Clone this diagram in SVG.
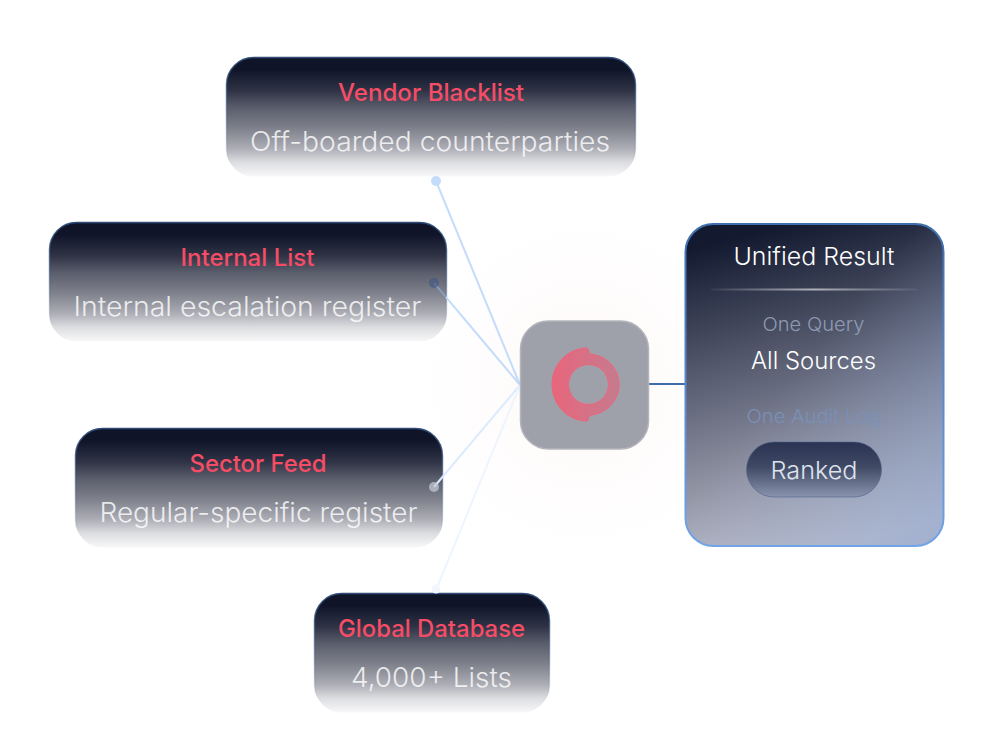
<svg xmlns="http://www.w3.org/2000/svg" width="993" height="754" viewBox="0 0 993 754">
<style>
text{font-family:"Inter","Liberation Sans",sans-serif;text-anchor:middle}
.card{fill:url(#cardFill);stroke:url(#cardStroke);stroke-width:1.5}
.title{font-size:24px;font-weight:500;fill:#f64c66}
.sub{font-size:27px;font-weight:300;fill:#fff;fill-opacity:.82}
.link{fill:none;stroke-width:2}
</style>
<defs>
<linearGradient id="cardFill" x1="0" y1="0" x2="0" y2="1">
<stop offset=".1" stop-color="#0f1429"/>
<stop offset=".28" stop-color="#2f3345"/>
<stop offset=".42" stop-color="#5a5d6b"/>
<stop offset=".6" stop-color="#80828d"/>
<stop offset=".76" stop-color="#abacb4"/>
<stop offset=".88" stop-color="#dcdde0"/>
<stop offset="1" stop-color="#f8f8f9"/>
</linearGradient>
<linearGradient id="cardStroke" x1="0" y1="0" x2="0" y2="1">
<stop offset="0" stop-color="#2f4d78"/>
<stop offset=".5" stop-color="#2f4d78" stop-opacity=".45"/>
<stop offset=".9" stop-color="#2f4d78" stop-opacity="0"/>
</linearGradient>
<linearGradient id="resultFill" x1=".4" y1="0" x2=".6" y2="1">
<stop offset="0" stop-color="#131a30"/>
<stop offset=".5" stop-color="#6a6e81"/>
<stop offset="1" stop-color="#c2c2cd"/>
</linearGradient>
<linearGradient id="resultTint" gradientUnits="userSpaceOnUse" x1="770" y1="400" x2="943" y2="546">
<stop offset="0" stop-color="#8fa6d0" stop-opacity="0"/>
<stop offset="1" stop-color="#8fa6d0" stop-opacity=".65"/>
</linearGradient>
<linearGradient id="resultStroke" x1="0" y1="0" x2="0" y2="1">
<stop offset="0" stop-color="#3d6ead"/>
<stop offset="1" stop-color="#70a4e6"/>
</linearGradient>
<linearGradient id="divider" x1="0" y1="0" x2="1" y2="0">
<stop offset="0" stop-color="#fff" stop-opacity=".05"/>
<stop offset=".5" stop-color="#fff" stop-opacity=".6"/>
<stop offset="1" stop-color="#fff" stop-opacity=".05"/>
</linearGradient>
<linearGradient id="pill" x1="0" y1="0" x2="0" y2="1">
<stop offset="0" stop-color="#2a3352"/>
<stop offset=".45" stop-color="#3f4964"/>
<stop offset="1" stop-color="#8a93ad"/>
</linearGradient>
<linearGradient id="ringFill" x1="0" y1="0" x2="1" y2="0">
<stop offset="0" stop-color="#e8667c"/>
<stop offset="1" stop-color="#c67b8e"/>
</linearGradient>
<radialGradient id="glow">
<stop offset="0" stop-color="#fdf0f0" stop-opacity=".45"/>
<stop offset="1" stop-color="#fdf0f0" stop-opacity="0"/>
</radialGradient>
</defs>
<rect width="993" height="754" fill="#fff"/>
<circle cx="585" cy="385" r="165" fill="url(#glow)"/>

<g id="node-vendor">
<rect class="card" x="226.500" y="57.500" width="409" height="119" rx="27"/>
<text class="title" x="431" y="100.500" textLength="186" lengthAdjust="spacingAndGlyphs">Vendor Blacklist</text>
<text class="sub" x="430" y="151" textLength="360" lengthAdjust="spacingAndGlyphs">Off-boarded counterparties</text>
</g>
<g id="node-internal">
<rect class="card" x="49.500" y="222.500" width="397" height="119" rx="27"/>
<text class="title" x="247.500" y="265.500" textLength="134" lengthAdjust="spacingAndGlyphs">Internal List</text>
<text class="sub" x="247.500" y="316" textLength="348" lengthAdjust="spacingAndGlyphs">Internal escalation register</text>
</g>
<g id="node-sector">
<rect class="card" x="75.500" y="428.500" width="367" height="119" rx="27"/>
<text class="title" x="258" y="471.500" textLength="137" lengthAdjust="spacingAndGlyphs">Sector Feed</text>
<text class="sub" x="258.500" y="522" textLength="318" lengthAdjust="spacingAndGlyphs">Regular-specific register</text>
</g>
<g id="node-global">
<rect class="card" x="314.500" y="593.500" width="235" height="119" rx="27"/>
<text class="title" x="431.500" y="636.500" textLength="187" lengthAdjust="spacingAndGlyphs">Global Database</text>
<text class="sub" x="431.500" y="687" textLength="161" lengthAdjust="spacingAndGlyphs">4,000+ Lists</text>
</g>

<g id="connectors">
<line class="link" x1="436" y1="181" x2="520" y2="385" stroke="#c3dcfb"/>
<circle cx="436" cy="181" r="5" fill="#c3dcfb"/>
<line class="link" x1="434" y1="283" x2="446" y2="297.200" stroke="#8aa6cf" stroke-opacity=".75"/>
<line class="link" x1="446" y1="297.200" x2="520" y2="385" stroke="#c3dcfb"/>
<circle cx="434" cy="283" r="5" fill="#3d5680" fill-opacity=".6"/>
<line class="link" x1="434" y1="487" x2="520" y2="385" stroke="#dcebfd"/>
<circle cx="434" cy="487" r="5" fill="#c6cdd9" fill-opacity=".7"/>
<line class="link" x1="436" y1="590" x2="520" y2="385" stroke="#eef5fe"/>
<circle cx="436" cy="589" r="4.500" fill="#f3f6fd"/>
<line x1="648" y1="384" x2="686" y2="384" stroke="#3e6cab" stroke-width="2"/>
</g>

<g id="node-hub">
<rect x="520.500" y="321" width="128" height="128" rx="28" fill="#9ea1aa" stroke="#b4b5bc" stroke-width="1.500"/>
<path d="M585 348C586.500 347.800 588 348.200 588.500 350C588.800 352 589.500 354 591 354.300C607 355.500 619 369 619 384.500C619 400 607 413.500 591 415C589.500 415.300 588.800 417 588.500 419C588 420.800 586.500 421.200 585 421C566 419.500 552 403.500 552 384.500C552 365.500 566 349.500 585 348ZM588.500 364.500A20 20 0 1 0 588.500 404.500A20 20 0 1 0 588.500 364.500Z" fill="url(#ringFill)" fill-rule="evenodd" stroke="#f0647c" stroke-width="1"/>
</g>

<g id="node-result">
<rect x="685.500" y="224" width="258" height="322" rx="28" fill="url(#resultFill)"/>
<rect x="685.500" y="224" width="258" height="322" rx="28" fill="url(#resultTint)"/>
<rect x="685.500" y="224" width="258" height="322" rx="28" fill="none" stroke="url(#resultStroke)" stroke-width="2"/>
<text x="814" y="265" font-size="24" font-weight="300" fill="#fff" textLength="161" lengthAdjust="spacingAndGlyphs">Unified Result</text>
<rect x="711" y="288.500" width="206" height="2" fill="url(#divider)"/>
<text x="813.500" y="331" font-size="19" font-weight="300" fill="#8e9ab4" textLength="102" lengthAdjust="spacingAndGlyphs">One Query</text>
<text x="813.500" y="369" font-size="23.500" font-weight="300" fill="#fff" textLength="125" lengthAdjust="spacingAndGlyphs">All Sources</text>
<text x="813.500" y="423" font-size="19" font-weight="300" fill="#7a90b8" textLength="134" lengthAdjust="spacingAndGlyphs">One Audit Log</text>
<rect x="746.500" y="442" width="135" height="55" rx="27.500" fill="url(#pill)" stroke="#4d6188" stroke-opacity=".6"/>
<text x="814" y="479" font-size="24.500" font-weight="300" fill="#dfe3ee" textLength="87" lengthAdjust="spacingAndGlyphs">Ranked</text>
</g>
</svg>
